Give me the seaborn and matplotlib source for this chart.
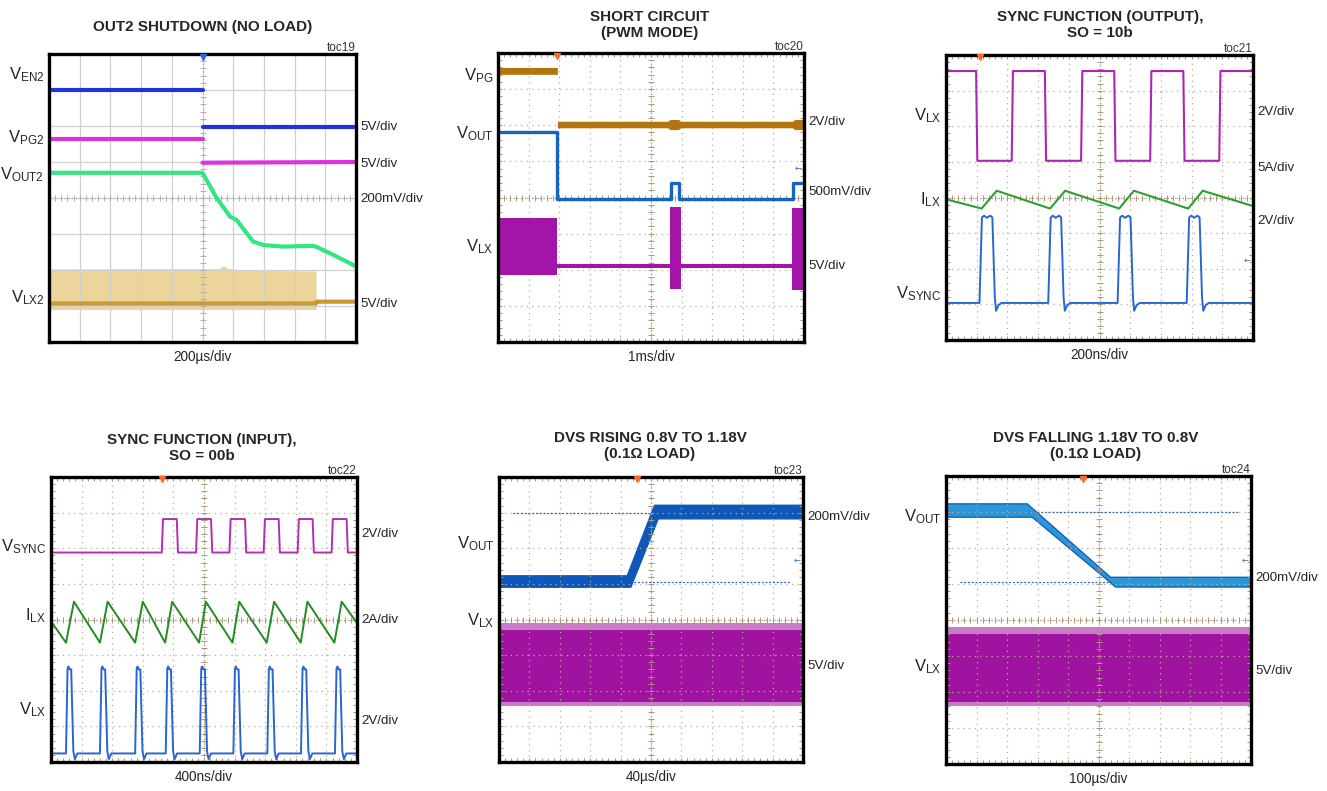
import numpy as np
import pandas as pd
import matplotlib
matplotlib.use("Agg")
import matplotlib.pyplot as plt
import seaborn as sns
from matplotlib import font_manager
from matplotlib.ticker import MultipleLocator

# all traces in screen divisions: x 0..10, y 0..8 (bottom = 0)

# toc19 - OUT2 shutdown
p1_ven2_x = [0, 5.0, 5.0, 10]
p1_ven2_y = [7.0, 7.0, 5.98, 5.98]
p1_vpg2_x = [0, 5.0, 5.0, 10]
p1_vpg2_y = [5.63, 5.63, 4.98, 5.0]
p1_vout2_x = [0, 5.0, 5.46, 5.9, 6.11, 6.44, 6.65, 7.0, 7.63, 8.6, 8.72, 9.26, 9.91, 10]
p1_vout2_y = [4.7, 4.7, 4.0, 3.48, 3.39, 3.02, 2.79, 2.69, 2.65, 2.67, 2.64, 2.42, 2.14, 2.1]
p1_vlx2_x = [0, 5.55, 5.68, 5.85, 6.3, 8.7]
p1_vlx2_top = [2.03, 2.04, 2.12, 2.04, 2.0, 1.97]
p1_vlx2_bot = [0.9, 0.9, 0.9, 0.9, 0.9, 0.9]
p1_lx2_line_x = [0, 8.7, 8.72, 10]
p1_lx2_line_y = [1.07, 1.07, 1.12, 1.12]

# toc20 - short circuit
p2_vpg_x = [0, 1.94, 1.94, 5.55, 5.62, 5.9, 5.97, 9.62, 9.7, 10]
p2_vpg_top = [7.6, 7.6, 6.11, 6.11, 6.16, 6.16, 6.11, 6.11, 6.16, 6.16]
p2_vpg_bot = [7.41, 7.41, 5.93, 5.93, 5.88, 5.88, 5.93, 5.93, 5.88, 5.88]
p2_vout_x = [0, 1.94, 1.94, 5.65, 5.65, 5.92, 5.92, 9.63, 9.63, 10]
p2_vout_y = [5.82, 5.82, 3.95, 3.95, 4.41, 4.41, 3.95, 3.95, 4.41, 4.41]
p2_vlx_x = [0, 1.94, 1.94, 5.62, 5.62, 5.97, 5.97, 9.62, 9.62, 10]
p2_vlx_top = [3.42, 3.42, 2.16, 2.16, 3.74, 3.74, 2.16, 2.16, 3.7, 3.7]
p2_vlx_bot = [1.85, 1.85, 2.05, 2.05, 1.48, 1.48, 2.05, 2.05, 1.45, 1.45]

# toc21 - sync output
p3_vlx_edges = [0.98, 2.14, 3.22, 4.40, 5.48, 6.65, 7.73, 8.90]
p3_vlx_hi, p3_vlx_lo = 7.55, 5.03
p3_ilx_x = [0, 1.16, 1.65, 3.39, 3.88, 5.64, 6.12, 7.89, 8.36, 10]
p3_ilx_y = [3.95, 3.69, 4.19, 3.69, 4.19, 3.69, 4.19, 3.69, 4.19, 3.76]
p3_sync_rise = [1.09, 3.33, 5.59, 7.84]
p3_sync_dx = [0, 0.08, 0.15, 0.24, 0.35, 0.42, 0.50, 0.54, 0.62, 0.72]
p3_sync_dy = [1.04, 3.44, 3.49, 3.43, 3.49, 3.44, 1.20, 0.82, 0.98, 1.04]
p3_sync_base = 1.04

# toc22 - sync input
p4_sync_edges = [3.62, 4.11, 4.74, 5.23, 5.83, 6.34, 6.95, 7.44, 8.06, 8.55, 9.17, 9.66]
p4_sync_hi, p4_sync_lo = 6.82, 5.88
p4_ilx_valley_x = [0.49, 1.60, 2.75, 3.73, 4.84, 5.93, 7.05, 8.16, 9.26]
p4_ilx_peak_x = [0.75, 1.85, 3.00, 3.96, 5.06, 6.15, 7.29, 8.38, 9.50]
p4_ilx_lo, p4_ilx_hi = 3.35, 4.50
p4_ilx_ends = [3.95, 3.90]
p4_vlx_rise = [0.49, 1.60, 2.75, 3.75, 4.86, 5.96, 7.07, 8.17, 9.28]
p4_vlx_dx = [0, 0.05, 0.08, 0.12, 0.17, 0.24, 0.29, 0.37]
p4_vlx_dy = [0.24, 2.62, 2.68, 2.60, 2.60, 0.30, 0.08, 0.24]
p4_vlx_base = 0.24

# toc23 - DVS rising
p5_vout_x = [0, 4.2, 4.32, 5.1, 5.22, 10]
p5_vout_top = [5.24, 5.24, 5.50, 7.22, 7.22, 7.22]
p5_vout_bot = [4.92, 4.92, 4.92, 6.58, 6.84, 6.84]
p5_refs = [(6.98, 0.47, 4.97), (5.06, 4.30, 9.60)]
p5_vlx_top, p5_vlx_bot = 3.89, 1.58
p5_vlx_inner = (3.70, 1.68)

# toc24 - DVS falling
p6_vout_x = [0, 2.65, 2.81, 5.38, 5.54, 10]
p6_vout_top = [7.24, 7.24, 7.12, 5.20, 5.20, 5.20]
p6_vout_bot = [6.87, 6.87, 6.87, 5.05, 4.93, 4.93]
p6_refs = [(6.99, 2.97, 9.58), (5.06, 0.46, 5.38)]
p6_vlx_top, p6_vlx_bot = 3.81, 1.61
p6_vlx_inner = (3.62, 1.72)

titles = ["OUT2 SHUTDOWN (NO LOAD)", "SHORT CIRCUIT\n(PWM MODE)",
          "SYNC FUNCTION (OUTPUT),\nSO = 10b", "SYNC FUNCTION (INPUT),\nSO = 00b",
          "DVS RISING 0.8V TO 1.18V\n(0.1Ω LOAD)", "DVS FALLING 1.18V TO 0.8V\n(0.1Ω LOAD)"]
tocs = ["toc19", "toc20", "toc21", "toc22", "toc23", "toc24"]
timebases = ["200µs/div", "1ms/div", "200ns/div", "400ns/div", "40µs/div", "100µs/div"]
left_labels = [
    [("EN2", 7.44), ("PG2", 5.69), ("OUT2", 4.64), ("LX2", 1.22)],
    [("PG", 7.36), ("OUT", 5.78), ("LX", 2.63)],
    [("LX", 6.31), ("LX", 3.95), ("SYNC", 1.31)],
    [("SYNC", 6.04), ("LX", 4.10), ("LX", 1.47)],
    [("OUT", 6.14), ("LX", 3.96)],
    [("OUT", 6.87), ("LX", 2.70)],
]
left_letters = [["V", "V", "V", "V"], ["V", "V", "V"], ["V", "I", "V"],
                ["V", "I", "V"], ["V", "V"], ["V", "V"]]
right_labels = [
    [("5V/div", 5.97), ("5V/div", 4.95), ("200mV/div", 3.97), ("5V/div", 1.06)],
    [("2V/div", 6.09), ("500mV/div", 4.15), ("5V/div", 2.10)],
    [("2V/div", 6.39), ("5A/div", 4.82), ("2V/div", 3.35)],
    [("2V/div", 6.40), ("2A/div", 3.98), ("2V/div", 1.15)],
    [("200mV/div", 6.87), ("5V/div", 2.69)],
    [("200mV/div", 5.16), ("5V/div", 2.59)],
]
trig_x = [5.0, 1.94, 1.10, 3.64, 4.53, 4.50]
gnd_y = [None, 4.80, 2.24, None, 5.65, 5.65]

# pixel boxes (left, top, right, bottom) and title centres
boxes = [(49, 54, 356, 342), (498, 53, 804, 342), (946, 55, 1253, 340),
         (51, 477, 357, 762), (499, 477, 803, 762), (946, 476, 1251, 764)]
title_xy = [(203, 27), (650, 25), (1100, 25), (202, 448), (650, 446), (1096, 446)]

W, H = 1327, 791

sns.set_theme(style="white")
names = {f.name for f in font_manager.fontManager.ttflist}
narrow = "Liberation Sans Narrow" if "Liberation Sans Narrow" in names else "Liberation Sans"
plt.rcParams["font.family"] = [narrow, "DejaVu Sans"]
plt.rcParams["mathtext.fontset"] = "custom"
plt.rcParams["mathtext.rm"] = narrow
plt.rcParams["mathtext.it"] = narrow + ":italic"
plt.rcParams["mathtext.bf"] = narrow + ":bold"
is_narrow = narrow.endswith("Narrow")
fs_title = 12.5 if is_narrow else 11
fs_right = 10.5 if is_narrow else 9.6
fs_left = 12.5 if is_narrow else 12
fs_base = 11 if is_narrow else 9.8


def square_from_edges(edges, start_hi, hi, lo, edge=0.04):
    xs, ys = [0.0], [hi if start_hi else lo]
    state = start_hi
    for e in edges:
        xs += [e, e + edge]
        ys += [hi if state else lo, lo if state else hi]
        state = not state
    xs.append(10.0)
    ys.append(hi if state else lo)
    return xs, ys


def pulses(starts, dx, dy, base):
    xs, ys = [0.0], [base]
    for s in starts:
        xs += [s + d for d in dx]
        ys += list(dy)
    xs.append(10.0)
    ys.append(base)
    return xs, ys


def trace(ax, xs, ys, color, lw, seg=None):
    df = pd.DataFrame({"t": xs, "v": ys, "seg": seg if seg is not None else [0] * len(xs)})
    sns.lineplot(data=df, x="t", y="v", units="seg", estimator=None, sort=False,
                 color=color, linewidth=lw, ax=ax, legend=False, zorder=2)


def scope_axes(fig, box, solid=False):
    l, t, r, b = box
    ax = fig.add_axes([l / W, 1 - b / H, (r - l) / W, (b - t) / H])
    ax.set_xlim(0, 10)
    ax.set_ylim(0, 8)
    ax.set_xticks(range(11))
    ax.set_yticks(range(9))
    ax.xaxis.set_minor_locator(MultipleLocator(0.2))
    ax.yaxis.set_minor_locator(MultipleLocator(0.2))
    ax.set_xticklabels([])
    ax.set_yticklabels([])
    ax.set_axisbelow("line")
    tick_c = "#b0b0b0" if solid else "#a89878"
    if solid:
        ax.grid(True, which="major", color="#d0d0d0", lw=0.9, ls="-")
        ax.tick_params(which="both", length=0)
    else:
        ax.grid(True, which="major", color="#b8ad98", lw=0.9, ls=(0, (1, 3.5)))
        ax.tick_params(which="both", direction="in", length=3, width=0.7, color=tick_c,
                       top=True, right=True, bottom=True, left=True)
    ax.axhline(4, color=tick_c, lw=0.9, ls=(0, (1, 2)), zorder=1.6)
    ax.axvline(5, color=tick_c, lw=0.9, ls=(0, (1, 2)), zorder=1.6)
    marks_x = np.arange(0, 10.01, 0.2)
    marks_y = np.arange(0, 8.01, 0.2)
    ax.plot(marks_x, np.full_like(marks_x, 4.0), ls="none", marker="|", ms=4,
            mew=0.7, color=tick_c, zorder=1.6)
    ax.plot(np.full_like(marks_y, 5.0), marks_y, ls="none", marker="_", ms=4,
            mew=0.7, color=tick_c, zorder=1.6)
    for sp in ax.spines.values():
        sp.set_linewidth(2.4)
        sp.set_color("black")
        sp.set_zorder(4)
    return ax


fig = plt.figure(figsize=(W / 100, H / 100), dpi=100)
axes = [scope_axes(fig, b, solid=(i == 0)) for i, b in enumerate(boxes)]

# toc19
ax = axes[0]
ax.fill_between(p1_vlx2_x, p1_vlx2_bot, p1_vlx2_top, color="#ecd59a", lw=0, zorder=1.2)
trace(ax, p1_lx2_line_x, p1_lx2_line_y, "#c99a2e", 3.0)
trace(ax, p1_ven2_x, p1_ven2_y, "#2233dd", 3.0, seg=[0, 0, 1, 1])
trace(ax, p1_vpg2_x, p1_vpg2_y, "#dd33dd", 3.0, seg=[0, 0, 1, 1])
trace(ax, p1_vout2_x, p1_vout2_y, "#33e680", 3.0)

# toc20
ax = axes[1]
ax.fill_between(p2_vpg_x, p2_vpg_bot, p2_vpg_top, color="#b4740e", lw=0, zorder=1.7)
ax.fill_between(p2_vlx_x, p2_vlx_bot, p2_vlx_top, color="#a414a8", lw=0, zorder=1.7)
trace(ax, p2_vout_x, p2_vout_y, "#1565c0", 2.4)

# toc21
ax = axes[2]
vx, vy = square_from_edges(p3_vlx_edges, True, p3_vlx_hi, p3_vlx_lo)
trace(ax, vx, vy, "#b025b0", 1.5)
trace(ax, p3_ilx_x, p3_ilx_y, "#2ea02e", 1.5)
sx, sy = pulses(p3_sync_rise, p3_sync_dx, p3_sync_dy, p3_sync_base)
trace(ax, sx, sy, "#2a66d0", 1.4)

# toc22
ax = axes[3]
vx, vy = square_from_edges(p4_sync_edges, False, p4_sync_hi, p4_sync_lo)
trace(ax, vx, vy, "#b030b0", 1.4)
zx = [0.0] + sorted(p4_ilx_valley_x + p4_ilx_peak_x) + [10.0]
zy = [p4_ilx_ends[0]] + [p4_ilx_lo if x in p4_ilx_valley_x else p4_ilx_hi
                          for x in sorted(p4_ilx_valley_x + p4_ilx_peak_x)] + [p4_ilx_ends[1]]
trace(ax, zx, zy, "#238c23", 1.4)
lx, ly = pulses(p4_vlx_rise, p4_vlx_dx, p4_vlx_dy, p4_vlx_base)
trace(ax, lx, ly, "#2a66d0", 1.4)

# toc23 / toc24
for ax, vxs, vtop, vbot, refs, lt, lb, inner, vcol, ecol in [
        (axes[4], p5_vout_x, p5_vout_top, p5_vout_bot, p5_refs, p5_vlx_top, p5_vlx_bot,
         p5_vlx_inner, "#0d58b8", "#0d58b8"),
        (axes[5], p6_vout_x, p6_vout_top, p6_vout_bot, p6_refs, p6_vlx_top, p6_vlx_bot,
         p6_vlx_inner, "#2a98d8", "#1462b4")]:
    ax.fill_between([0, 10], [lb, lb], [lt, lt], color="#c97ac9", lw=0, zorder=1.2)
    ax.fill_between([0, 10], [inner[1]] * 2, [inner[0]] * 2, color="#a012a0", lw=0, zorder=1.25)
    ax.fill_between(vxs, vbot, vtop, color=vcol, edgecolor=ecol, lw=1.0, zorder=1.3)
    for yv, x0, x1 in refs:
        ax.plot([x0, x1], [yv, yv], color="#2f62c0", lw=0.9, ls=(0, (1.5, 1.5)), zorder=1.9)

# markers, labels
for i, ax in enumerate(axes):
    ax.set_xlabel("")
    ax.set_ylabel("")
    ax.set_xlim(0, 10)
    ax.set_ylim(0, 8)
    ax.plot([trig_x[i]], [7.93], marker="v", ms=4, color="#2a66e0" if i == 0 else "#ff6a2a",
            ls="none", zorder=5, clip_on=False)
    if gnd_y[i] is not None:
        ax.text(9.92, gnd_y[i], "←", color="#2a66d0", fontsize=6, ha="right", va="center",
                family="DejaVu Sans", zorder=5)
    for letter, (sub, yv) in zip(left_letters[i], left_labels[i]):
        ax.annotate(letter + r"$_{\mathrm{" + sub + "}}$", xy=(0, yv),
                    xycoords=("axes fraction", "data"), xytext=(-3.5, 0),
                    textcoords="offset points", ha="right", va="center", fontsize=fs_left)
    for txt, yv in right_labels[i]:
        ax.annotate(txt, xy=(1, yv), xycoords=("axes fraction", "data"), xytext=(3, 0),
                    textcoords="offset points", ha="left", va="center", fontsize=fs_right)
    ax.text(1.0, 1.0, tocs[i], transform=ax.transAxes, ha="right", va="bottom",
            fontsize=8.5, color="#333333")
    ax.annotate(timebases[i], xy=(0.5, 0), xycoords="axes fraction", xytext=(0, -11),
                textcoords="offset points", ha="center", va="center", fontsize=fs_base)
    tx, ty = title_xy[i]
    fig.text(tx / W, 1 - ty / H, titles[i], ha="center", va="center", fontsize=fs_title,
             fontweight="bold", linespacing=1.2)

fig.savefig("out.png", dpi=100)
